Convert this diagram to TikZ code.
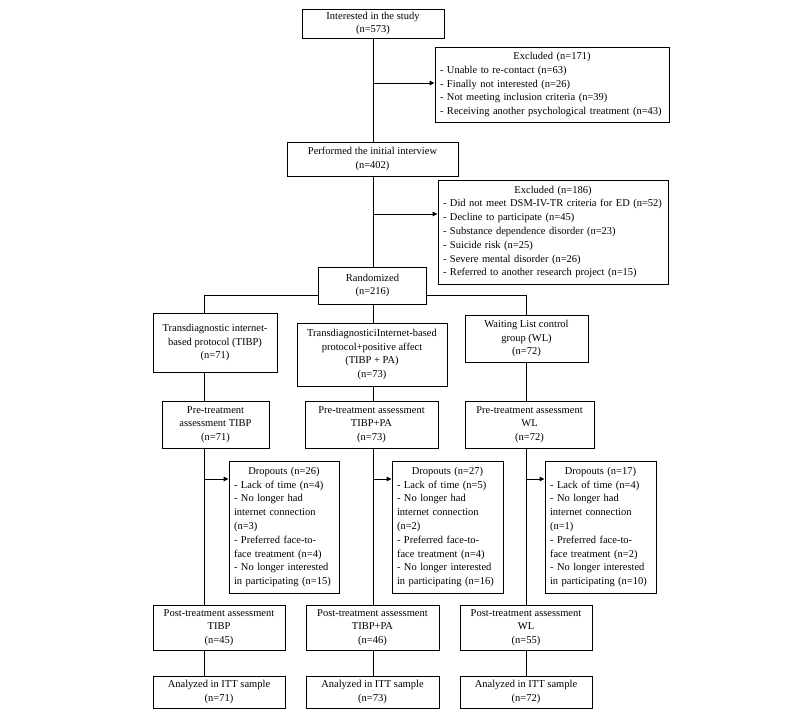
\documentclass[tikz,border=0pt]{standalone}
\usepackage{fontspec}
\setmainfont{Liberation Serif}
\usetikzlibrary{arrows.meta}
\newcommand\dfont{\fontsize{10.5}{13.8}\selectfont}
\newcommand\hd[1]{\hbox to \hsize{\hss #1\hss}}
\tikzset{
  box/.style={draw, line width=0.9pt, fill=white, align=center, inner sep=2pt, font=\dfont},
  lbox/.style={box, align=left, inner xsep=5pt, text width=#1},
  conn/.style={line width=0.9pt},
  arr/.style={conn, -{Triangle[length=5pt,width=4.5pt]}},
}
\begin{document}
\begin{tikzpicture}[x=1pt,y=-1pt]
\useasboundingbox (0,0) rectangle (800,718);
\fill[white] (0,0) rectangle (800,718);
% column coordinates
\coordinate (cA) at (204,0);
\coordinate (cB) at (373,0);
\coordinate (cC) at (526,0);
\coordinate (a1) at (373,83);
\coordinate (a2) at (373,214);
\coordinate (br) at (0,295);
\coordinate (dy) at (0,479);
% top part
\node[box, minimum width=142pt, minimum height=29pt] (int) at (373,23.5) {Interested in the study\\(n=573)};
\node[lbox=224pt, minimum height=75pt] (exc1) at (552,84.5) {\hd{Excluded (n=171)}\\- Unable to re-contact (n=63)\\- Finally not interested (n=26)\\- Not meeting inclusion criteria (n=39)\\- Receiving another psychological treatment (n=43)};
\node[box, minimum width=171pt, minimum height=34pt] (perf) at (372.5,159) {Performed the initial interview\\(n=402)};
\node[lbox=220pt, minimum height=104pt] (exc2) at (553,232) {\hd{Excluded (n=186)}\\- Did not meet DSM-IV-TR criteria for ED (n=52)\\- Decline to participate (n=45)\\- Substance dependence disorder (n=23)\\- Suicide risk (n=25)\\- Severe mental disorder (n=26)\\- Referred to another research project (n=15)};
\node[box, minimum width=108pt, minimum height=37pt] (rand) at (372.5,285.5) {Randomized\\(n=216)};
% arms
\node[box, minimum width=124pt, minimum height=59pt] (tibp) at (215,342.5) {Transdiagnostic internet-\\based protocol (TIBP)\\(n=71)};
\node[box, minimum width=150pt, minimum height=63pt] (tibppa) at (372,354.5) {TransdiagnosticiInternet-based\\protocol+positive affect\\(TIBP + PA)\\(n=73)};
\node[box, minimum width=123pt, minimum height=47pt] (wl) at (526.5,338.5) {Waiting List control\\group (WL)\\(n=72)};
% pre-treatment
\node[box, minimum width=107pt, minimum height=47pt] (pre1) at (215.5,424.5) {Pre-treatment\\assessment TIBP\\(n=71)};
\node[box, minimum width=133pt, minimum height=47pt] (pre2) at (371.5,424.5) {Pre-treatment assessment\\TIBP+PA\\(n=73)};
\node[box, minimum width=129pt, minimum height=47pt] (pre3) at (529.5,424.5) {Pre-treatment assessment\\WL\\(n=72)};
% dropouts
\node[lbox=100pt, minimum height=132pt] (drop1) at (284,527) {\hd{Dropouts (n=26)}\\- Lack of time (n=4)\\- No longer had\\internet connection\\(n=3)\\- Preferred face-to-\\face treatment (n=4)\\- No longer interested\\in participating (n=15)};
\node[lbox=101pt, minimum height=132pt] (drop2) at (447.5,527) {\hd{Dropouts (n=27)}\\- Lack of time (n=5)\\- No longer had\\internet connection\\(n=2)\\- Preferred face-to-\\face treatment (n=4)\\- No longer interested\\in participating (n=16)};
\node[lbox=101pt, minimum height=132pt] (drop3) at (600.5,527) {\hd{Dropouts (n=17)}\\- Lack of time (n=4)\\- No longer had\\internet connection\\(n=1)\\- Preferred face-to-\\face treatment (n=2)\\- No longer interested\\in participating (n=10)};
% post-treatment
\node[box, minimum width=132pt, minimum height=45pt] (post1) at (219,627.5) {Post-treatment assessment\\TIBP\\(n=45)};
\node[box, minimum width=133pt, minimum height=45pt] (post2) at (372.5,627.5) {Post-treatment assessment\\TIBP+PA\\(n=46)};
\node[box, minimum width=132pt, minimum height=45pt] (post3) at (526,627.5) {Post-treatment assessment\\WL\\(n=55)};
% analyzed
\node[box, minimum width=132pt, minimum height=32pt] (ana1) at (219,692) {Analyzed in ITT sample\\(n=71)};
\node[box, minimum width=133pt, minimum height=32pt] (ana2) at (372.5,692) {Analyzed in ITT sample\\(n=73)};
\node[box, minimum width=132pt, minimum height=32pt] (ana3) at (526,692) {Analyzed in ITT sample\\(n=72)};
% connectors top
\draw[conn] (int.south -| cB) -- (perf.north -| cB);
\draw[arr] (a1) -- (a1 -| exc1.west);
\draw[conn] (perf.south -| cB) -- (rand.north -| cB);
\draw[arr] (a2) -- (a2 -| exc2.west);
% branch
\draw[conn] (rand.west |- br) -- (br -| cA) -- (tibp.north -| cA);
\draw[conn] (rand.east |- br) -- (br -| cC) -- (wl.north -| cC);
\draw[conn] (rand.south -| cB) -- (tibppa.north -| cB);
% column A
\draw[conn] (tibp.south -| cA) -- (pre1.north -| cA);
\draw[conn] (pre1.south -| cA) -- (post1.north -| cA);
\draw[arr] (dy -| cA) -- (dy -| drop1.west);
\draw[conn] (post1.south -| cA) -- (ana1.north -| cA);
% column B
\draw[conn] (tibppa.south -| cB) -- (pre2.north -| cB);
\draw[conn] (pre2.south -| cB) -- (post2.north -| cB);
\draw[arr] (dy -| cB) -- (dy -| drop2.west);
\draw[conn] (post2.south -| cB) -- (ana2.north -| cB);
% column C
\draw[conn] (wl.south -| cC) -- (pre3.north -| cC);
\draw[conn] (pre3.south -| cC) -- (post3.north -| cC);
\draw[arr] (dy -| cC) -- (dy -| drop3.west);
\draw[conn] (post3.south -| cC) -- (ana3.north -| cC);
\end{tikzpicture}
\end{document}
